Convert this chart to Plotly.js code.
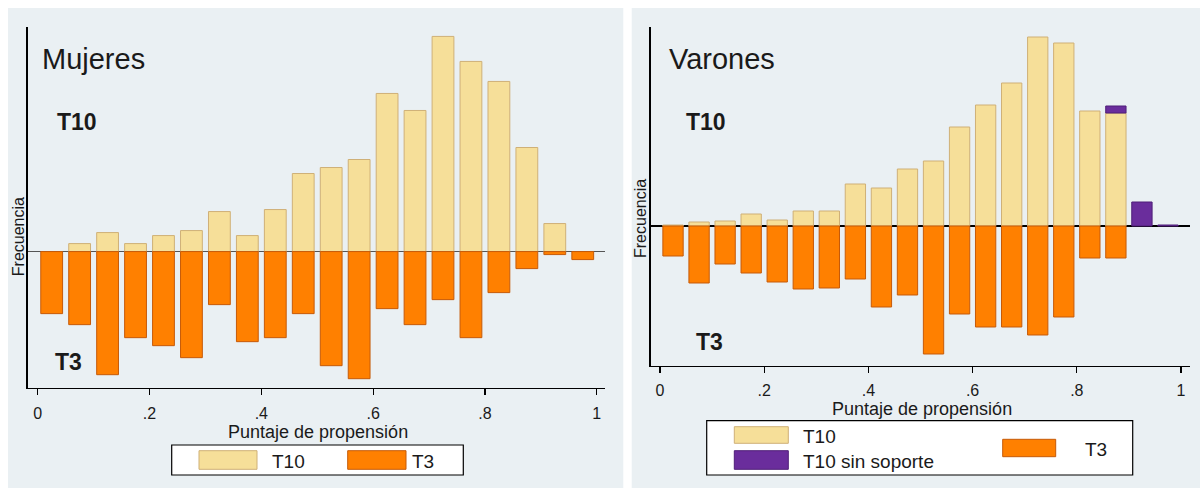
<!DOCTYPE html>
<html>
<head>
<meta charset="utf-8">
<script src="https://cdn.plot.ly/plotly-3.0.1.min.js"></script>
<style>
  html, body { margin: 0; padding: 0; background: #ffffff; }
  #chart { width: 1200px; height: 493px; }
</style>
</head>
<body>
<div id="chart"></div>
<script>
// ---------- DATA ----------
// Bin centres of the propensity score (bins of width 0.05)
const bins = [0.025, 0.075, 0.125, 0.175, 0.225, 0.275, 0.325, 0.375, 0.425, 0.475,
              0.525, 0.575, 0.625, 0.675, 0.725, 0.775, 0.825, 0.875, 0.925, 0.975];

// Mujeres (women)
const mujeresT10 = [0, 8, 19, 8, 16, 21, 40, 16, 42, 78, 84, 92, 158, 141, 215, 190, 170, 104, 28, 0];
const mujeresT3  = [-62, -73, -123, -86, -94, -106, -53, -90, -86, -62, -114, -127, -57, -73, -48, -86, -41, -17, -3, -8];

// Varones (men)
const varonesT10        = [1, 4, 5, 12, 6, 15, 15, 42, 38, 57, 65, 99, 121, 143, 189, 183, 115, 113, 0, 0];
const varonesT10SinSop  = [0, 0, 0, 0, 0, 0, 0, 0, 0, 0, 0, 0, 0, 0, 0, 0, 0, 7, 24, 1];
const varonesT3         = [-30, -57, -38, -47, -56, -63, -62, -53, -81, -69, -128, -88, -101, -101, -109, -91, -32, -32, 0, 0];

// Tick labels
const tickVals = [0, 0.2, 0.4, 0.6, 0.8, 1];
const tickText = ['0', '.2', '.4', '.6', '.8', '1'];

// Text
const panelTitles = ['Mujeres', 'Varones'];
const groupLabels = ['T10', 'T3'];
const xTitle = 'Puntaje de propensión';
const yTitle = 'Frecuencia';
const legendLeft = ['T10', 'T3'];
const legendRight = ['T10', 'T10 sin soporte', 'T3'];

// ---------- STYLE ----------
const C_T10 = '#f6df99', C_T10_LINE = '#cfb077';
const C_T3 = '#ff8000', C_T3_LINE = '#c65a08';
const C_SIN = '#6a2d9c', C_SIN_LINE = '#4f1f78';
const BG = '#eaf0f3';
const FONT = 'Liberation Sans, Arial, sans-serif';
const TXT = '#1a1a1a';
const BW = 0.039;

const W = 1200, H = 493;
const PX = x => x / W;
const PY = y => 1 - y / H;

function bar(x, y, name, fill, line, xa, ya) {
  // empty bins are not drawn (no outline on zero-height bars)
  const yy = y.map(v => (v === 0 ? null : v));
  return { type: 'bar', x: x, y: yy, name: name, xaxis: xa, yaxis: ya, width: BW,
           marker: { color: fill, line: { color: line, width: 1 } }, showlegend: false, hoverinfo: 'skip' };
}

const data = [
  bar(bins, mujeresT10, 'T10', C_T10, C_T10_LINE, 'x', 'y'),
  bar(bins, mujeresT3, 'T3', C_T3, C_T3_LINE, 'x', 'y'),
  bar(bins, varonesT10, 'T10', C_T10, C_T10_LINE, 'x2', 'y2'),
  bar(bins, varonesT10SinSop, 'T10 sin soporte', C_SIN, C_SIN_LINE, 'x2', 'y2'),
  bar(bins, varonesT3, 'T3', C_T3, C_T3_LINE, 'x2', 'y2')
];

function xaxis(domain, range) {
  return { domain: domain, range: range, showgrid: false, zeroline: false,
           showline: true, linecolor: '#000', linewidth: 1.3, mirror: false,
           ticks: 'outside', ticklen: 6, tickwidth: 1.2, tickcolor: '#000',
           tickvals: tickVals, ticktext: tickText, ticklabelstandoff: 4,
           tickfont: { family: FONT, size: 16, color: TXT }, fixedrange: true };
}
function yaxis(domain, range, zcol, anchor) {
  return { domain: domain, range: range, anchor: anchor, showgrid: false, showticklabels: false, ticks: '',
           zeroline: true, zerolinecolor: zcol, zerolinewidth: 1.3,
           showline: true, linecolor: '#000', linewidth: 1.3, fixedrange: true };
}

const shapes = [
  // panel backgrounds
  { type: 'rect', xref: 'paper', yref: 'paper', x0: PX(8), x1: PX(623.3), y0: PY(488), y1: PY(8),
    fillcolor: BG, line: { width: 0 }, layer: 'below' },
  { type: 'rect', xref: 'paper', yref: 'paper', x0: PX(631.7), x1: PX(1200), y0: PY(488), y1: PY(8),
    fillcolor: BG, line: { width: 0 }, layer: 'below' },
  // left legend box and swatches
  { type: 'rect', xref: 'paper', yref: 'paper', x0: PX(171.7), x1: PX(463.3), y0: PY(475), y1: PY(445),
    fillcolor: '#ffffff', line: { color: '#000', width: 1.2 } },
  { type: 'rect', xref: 'paper', yref: 'paper', x0: PX(199), x1: PX(257), y0: PY(469.3), y1: PY(450.7),
    fillcolor: C_T10, line: { color: C_T10_LINE, width: 1 } },
  { type: 'rect', xref: 'paper', yref: 'paper', x0: PX(347.7), x1: PX(406), y0: PY(469.3), y1: PY(450.7),
    fillcolor: C_T3, line: { color: C_T3_LINE, width: 1 } },
  // right legend box and swatches
  { type: 'rect', xref: 'paper', yref: 'paper', x0: PX(706.7), x1: PX(1132.7), y0: PY(475), y1: PY(420.7),
    fillcolor: '#ffffff', line: { color: '#000', width: 1.2 } },
  { type: 'rect', xref: 'paper', yref: 'paper', x0: PX(734.3), x1: PX(788.3), y0: PY(443.3), y1: PY(426.7),
    fillcolor: C_T10, line: { color: C_T10_LINE, width: 1 } },
  { type: 'rect', xref: 'paper', yref: 'paper', x0: PX(734.3), x1: PX(788.3), y0: PY(469.3), y1: PY(450.7),
    fillcolor: C_SIN, line: { color: C_SIN_LINE, width: 1 } },
  { type: 'rect', xref: 'paper', yref: 'paper', x0: PX(1002.7), x1: PX(1055.7), y0: PY(456.7), y1: PY(439.3),
    fillcolor: C_T3, line: { color: C_T3_LINE, width: 1 } }
];

function ann(text, x, y, size, opts) {
  return Object.assign({ text: text, xref: 'paper', yref: 'paper', x: PX(x), y: PY(y),
    xanchor: 'left', yanchor: 'middle', showarrow: false,
    font: { family: FONT, size: size, color: TXT } }, opts || {});
}

const annotations = [
  ann(panelTitles[0], 40, 59, 29),
  ann(panelTitles[1], 667, 59, 29),
  ann('<b>' + groupLabels[0] + '</b>', 55, 122, 23),
  ann('<b>' + groupLabels[1] + '</b>', 53, 362, 23),
  ann('<b>' + groupLabels[0] + '</b>', 684, 122, 23),
  ann('<b>' + groupLabels[1] + '</b>', 694, 342, 23),
  ann(yTitle, 18.5, 236.7, 16, { xanchor: 'center', textangle: -90 }),
  ann(yTitle, 640, 219, 16, { xanchor: 'center', textangle: -90 }),
  ann(xTitle, 317.5, 432, 18, { xanchor: 'center' }),
  ann(xTitle, 922, 409, 18, { xanchor: 'center' }),
  ann(legendLeft[0], 270, 461, 19),
  ann(legendLeft[1], 410, 461, 19),
  ann(legendRight[0], 801, 436, 19),
  ann(legendRight[1], 801, 461, 19),
  ann(legendRight[2], 1083, 449, 19)
];

const layout = {
  width: W, height: H,
  margin: { l: 0, r: 0, t: 0, b: 0, pad: 0 },
  paper_bgcolor: '#ffffff', plot_bgcolor: '#ffffff',
  barmode: 'relative', bargap: 0,
  showlegend: false,
  xaxis: xaxis([PX(27.7), PX(605)], [-0.0179, 1.0148]),
  yaxis: yaxis([PY(388), PY(26.7)], [-136.3, 224.7], '#555555', 'x'),
  xaxis2: Object.assign(xaxis([PX(650.7), PX(1190)], [-0.01785, 1.01727]), { anchor: 'y2' }),
  yaxis2: yaxis([PY(365.7), PY(26.7)], [-139.7, 199.3], '#000000', 'x2'),
  shapes: shapes,
  annotations: annotations,
  font: { family: FONT, color: TXT }
};
layout.xaxis.anchor = 'y';

Plotly.newPlot('chart', data, layout, { staticPlot: true, displayModeBar: false });
</script>
</body>
</html>
